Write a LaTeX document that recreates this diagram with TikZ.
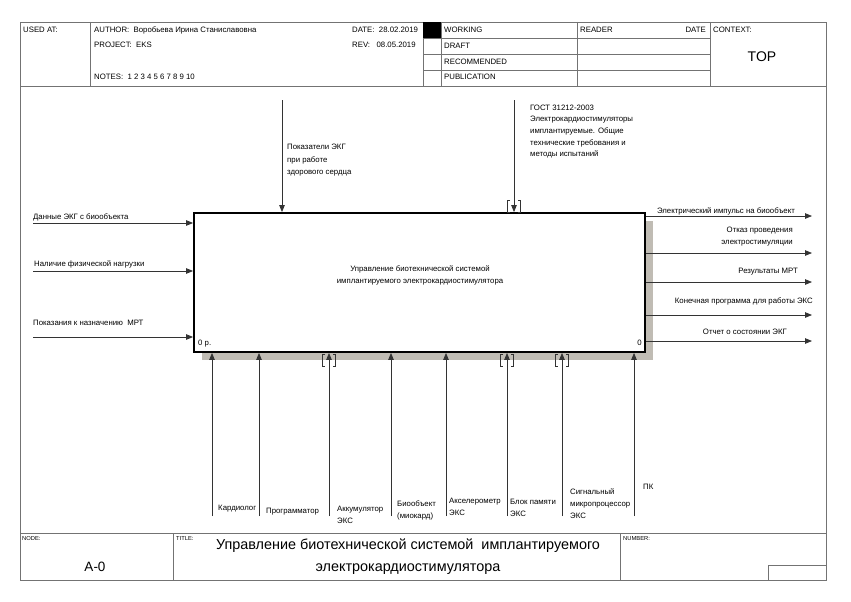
\documentclass[tikz,border=0pt]{standalone}
\usepackage{fontspec}
\setmainfont{Liberation Sans}
\usetikzlibrary{arrows.meta}
\begin{document}
\begin{tikzpicture}[x=1pt,y=-1pt,
  frm/.style={draw=black!55, line width=0.8pt},
  arr/.style={draw=black!80, line width=0.8pt, -{Triangle[length=7pt,width=5.5pt]}},
  lab/.style={inner sep=0pt, font=\fontsize{7.8}{11.8}\selectfont},
  hdr/.style={inner sep=0pt, font=\fontsize{7.8}{10}\selectfont},
  tinyl/.style={inner sep=0pt, font=\fontsize{5.8}{7}\selectfont},
  tun/.style={draw=black!80, line width=0.7pt}
]
\useasboundingbox (0,0) rectangle (851,602);
\fill[white] (0,0) rectangle (851,602);
% frame
\draw[frm] (20,22) rectangle (826,580);
\draw[frm] (20,86) -- (826,86);
\draw[frm] (20,533) -- (826,533);
\foreach \x in {90,423,441,577,710} \draw[frm] (\x,22) -- (\x,86);
\foreach \y in {38,54,70} \draw[frm] (423,\y) -- (710,\y);
\fill[black] (423,22) rectangle (441,38);
\draw[frm] (173,533) -- (173,580);
\draw[frm] (620,533) -- (620,580);
\draw[frm] (768,565) rectangle (826,580);
% header texts
\node[hdr, anchor=base west] (usedat) at (23,32.8) {USED AT:};
\node[hdr, anchor=base west] (author) at (94,32.8) {AUTHOR:\ \ Воробьева Ирина Станиславовна};
\node[hdr, anchor=base west] (project) at (94,47.8) {PROJECT:\ \ EKS};
\node[hdr, anchor=base west] (notes) at (94,79.8) {NOTES:\ \ 1\ 2\ 3\ 4\ 5\ 6\ 7\ 8\ 9\ 10};
\node[hdr, anchor=base west] (date) at (352,32.8) {DATE:\ \ 28.02.2019};
\node[hdr, anchor=base west] (rev) at (352,47.8) {REV:\ \ \ 08.05.2019};
\node[hdr, anchor=base west] (working) at (444,32.8) {WORKING};
\node[hdr, anchor=base west] (draft) at (444,48.8) {DRAFT};
\node[hdr, anchor=base west] (recom) at (444,64.8) {RECOMMENDED};
\node[hdr, anchor=base west] (publ) at (444,79.8) {PUBLICATION};
\node[hdr, anchor=base west] (reader) at (580,32.8) {READER};
\node[hdr, anchor=base east] (rdate) at (706,32.8) {DATE};
\node[hdr, anchor=base west] (context) at (713,32.8) {CONTEXT:};
\node[inner sep=0pt, font=\fontsize{14}{16}\selectfont] (top) at (762,57) {TOP};
% footer texts
\node[tinyl, anchor=base west] (nodelab) at (22,540) {NODE:};
\node[tinyl, anchor=base west] (titlelab) at (176,540) {TITLE:};
\node[tinyl, anchor=base west] (numlab) at (623,540) {NUMBER:};
\node[inner sep=0pt, font=\fontsize{13.5}{16}\selectfont] (nodeid) at (95,567) {A-0};
\node[inner sep=0pt, font=\fontsize{14.4}{22}\selectfont, align=center] (title) at (408,557) {Управление биотехнической системой\ \ имплантируемого\\электрокардиостимулятора};
% main box
\node[fill={rgb,255:red,192;green,188;blue,180}, minimum width=451pt, minimum height=139pt, inner sep=0pt] (shadow) at (427.5,290.5) {};
\node[draw=black, line width=1.8pt, fill=white, minimum width=451pt, minimum height=139pt, inner sep=0pt] (box) at (419.5,282.5) {};
\node[lab, align=center] (boxtxt) at (420,275.5) {Управление биотехнической системой\\имплантируемого электрокардиостимулятора};
\node[lab, anchor=base west] (num0) at (198,345.8) {0 р.};
\node[lab, anchor=base east] (num1) at (642,345.8) {0};
% inputs
\coordinate (i1) at (33,223);
\coordinate (i2) at (33,271);
\coordinate (i3) at (33,337);
\draw[arr] (i1) -- (i1 -| box.west);
\draw[arr] (i2) -- (i2 -| box.west);
\draw[arr] (i3) -- (i3 -| box.west);
\node[lab, anchor=base west] (li1) at (33,219.5) {Данные ЭКГ с биообъекта};
\node[lab, anchor=base west] (li2) at (34,266.5) {Наличие физической нагрузки};
\node[lab, anchor=base west] (li3) at (33,325.5) {Показания к назначению\ \ МРТ};
% controls
\coordinate (c1) at (282,100);
\coordinate (c2) at (514,100);
\draw[arr] (c1) -- (c1 |- box.north);
\draw[arr] (c2) -- (c2 |- box.north);
\draw[tun] (510,200) -- (507.5,200) -- (507.5,212) -- (510,212);
\draw[tun] (518,200) -- (520.5,200) -- (520.5,212) -- (518,212);
\node[lab, anchor=north west, align=left, font=\fontsize{7.8}{12.4}\selectfont] (lc1) at (287,144) {Показатели ЭКГ\\при работе\\здорового сердца};
\node[lab, anchor=north west, align=left, font=\fontsize{7.8}{11.7}\selectfont] (lc2) at (530,104.5) {ГОСТ 31212-2003\\Электрокардиостимуляторы\\имплантируемые. Общие\\технические требования и\\методы испытаний};
% outputs
\coordinate (o1) at (812,216);
\coordinate (o2) at (812,253);
\coordinate (o3) at (812,282);
\coordinate (o4) at (812,315);
\coordinate (o5) at (812,341);
\foreach \o in {o1,o2,o3,o4,o5} \draw[arr] (\o -| box.east) -- (\o);
\node[lab, anchor=base east] (lo1) at (795,213.8) {Электрический импульс на биообъект};
\node[lab, anchor=north east, align=right] (lo2) at (793,227.3) {Отказ проведения\\электростимуляции};
\node[lab, anchor=base east] (lo3) at (798,273.8) {Результаты МРТ};
\node[lab, anchor=base east] (lo4) at (813,303) {Конечная программа для работы ЭКС};
\node[lab, anchor=base east] (lo5) at (787,334) {Отчет о состоянии ЭКГ};
% mechanisms
\foreach \n/\x in {m1/212,m2/259,m3/329,m4/391,m5/446,m6/507,m7/562,m8/634}
  \coordinate (\n) at (\x,516);
\foreach \n in {m1,m2,m3,m4,m5,m6,m7,m8} \draw[arr] (\n) -- (\n |- box.south);
\foreach \x in {329,507,562} {
  \draw[tun] (\x-4,354) -- (\x-6.5,354) -- (\x-6.5,366) -- (\x-4,366);
  \draw[tun] (\x+4,354) -- (\x+6.5,354) -- (\x+6.5,366) -- (\x+4,366);
}
\node[lab, anchor=north west] (lm1) at (218,505) {Кардиолог};
\node[lab, anchor=north west] (lm2) at (266,508) {Программатор};
\node[lab, anchor=north west, align=left] (lm3) at (337,506) {Аккумулятор\\ЭКС};
\node[lab, anchor=north west, align=left] (lm4) at (397,501) {Биообъект\\(миокард)};
\node[lab, anchor=north west, align=left] (lm5) at (449,498) {Акселерометр\\ЭКС};
\node[lab, anchor=north west, align=left] (lm6) at (510,499) {Блок памяти\\ЭКС};
\node[lab, anchor=north west, align=left, font=\fontsize{7.8}{11.6}\selectfont] (lm7) at (570,489) {Сигнальный\\микропроцессор\\ЭКС};
\node[lab, anchor=north west] (lm8) at (643,484) {ПК};
\end{tikzpicture}
\end{document}
